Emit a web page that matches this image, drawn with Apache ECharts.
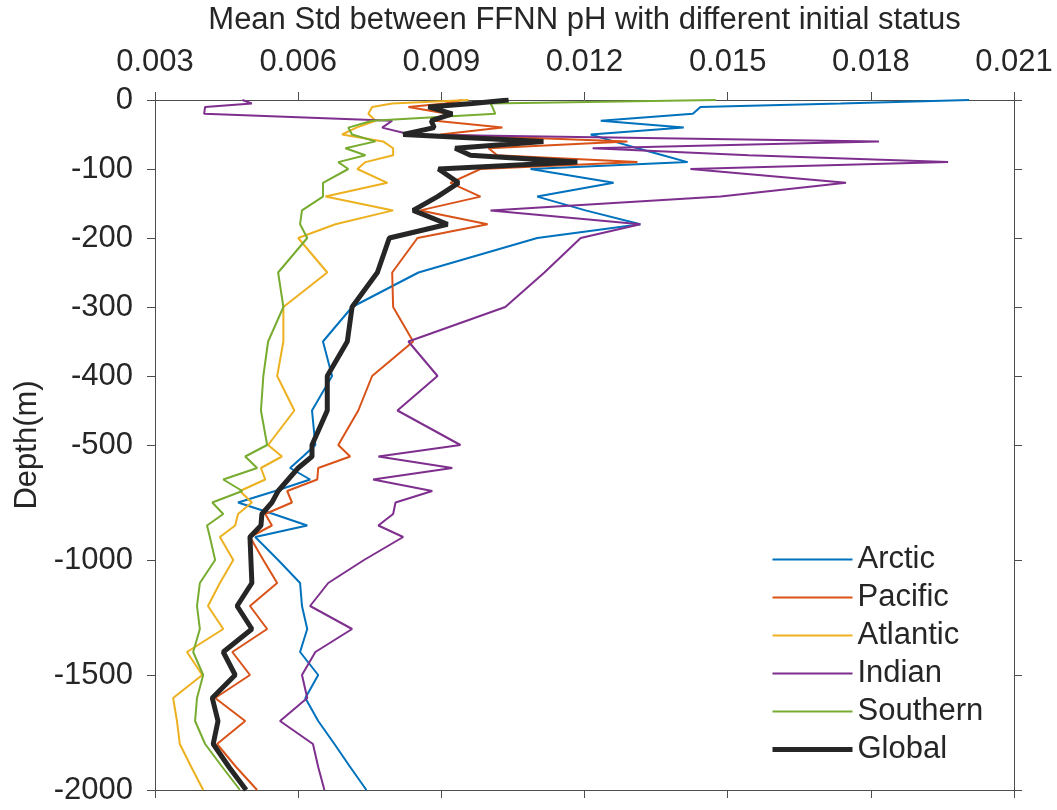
<!DOCTYPE html>
<html>
<head>
<meta charset="utf-8">
<script src="https://cdn.jsdelivr.net/npm/echarts@6/dist/echarts.min.js"></script>
<style>html,body{margin:0;padding:0;background:#fff}#c{width:1057px;height:810px}</style>
</head>
<body>
<div id="c"></div>
<script>
// Depth levels (m, negative = below surface)
const depths = [0,-5,-10,-20,-30,-40,-50,-60,-70,-80,-90,-100,-120,-140,-160,-180,-200,-250,-300,-350,-400,-450,-500,-550,-600,-650,-700,-750,-800,-850,-900,-1000,-1100,-1200,-1300,-1400,-1500,-1600,-1700,-1800,-1900,-2000];

const arctic = [0.02006,0.01737,0.01443,0.01427,0.01234,0.01408,0.01213,0.01261,0.01311,0.01364,0.01416,0.01087,0.01261,0.01101,0.01202,0.01317,0.01101,0.00852,0.00713,0.00652,0.00671,0.00629,0.00636,0.00610,0.00583,0.00625,0.00552,0.00474,0.00548,0.00619,0.00510,0.00558,0.00604,0.00608,0.00619,0.00604,0.00642,0.00615,0.00642,0.00676,0.00709,0.00743];
const pacific = [0.00944,0.00908,0.00831,0.00913,0.00887,0.01028,0.00898,0.01290,0.00999,0.01017,0.01311,0.00982,0.00919,0.00982,0.00856,0.00997,0.00850,0.00797,0.00799,0.00841,0.00755,0.00726,0.00684,0.00709,0.00642,0.00640,0.00577,0.00587,0.00531,0.00545,0.00499,0.00527,0.00556,0.00499,0.00535,0.00462,0.00499,0.00426,0.00489,0.00430,0.00470,0.00514];
const atlantic = [0.00957,0.00797,0.00755,0.00747,0.00762,0.00722,0.00692,0.00778,0.00799,0.00799,0.00741,0.00724,0.00787,0.00657,0.00799,0.00678,0.00600,0.00661,0.00569,0.00569,0.00556,0.00592,0.00537,0.00566,0.00522,0.00531,0.00478,0.00503,0.00474,0.00468,0.00436,0.00464,0.00436,0.00411,0.00443,0.00367,0.00399,0.00338,0.00346,0.00352,0.00376,0.00401];
const indian = [0.00483,0.00503,0.00405,0.00403,0.00797,0.00776,0.00835,0.01817,0.01217,0.01544,0.01962,0.01422,0.01748,0.01485,0.01003,0.01317,0.01192,0.01116,0.01034,0.00831,0.00892,0.00808,0.00940,0.00768,0.00923,0.00757,0.00881,0.00804,0.00799,0.00768,0.00820,0.00738,0.00663,0.00625,0.00713,0.00636,0.00608,0.00619,0.00562,0.00631,0.00642,0.00655];
const southern = [0.01475,0.01003,0.01007,0.01013,0.00755,0.00705,0.00713,0.00762,0.00699,0.00741,0.00684,0.00705,0.00652,0.00652,0.00608,0.00604,0.00619,0.00558,0.00569,0.00537,0.00527,0.00522,0.00535,0.00489,0.00514,0.00443,0.00483,0.00420,0.00443,0.00409,0.00415,0.00426,0.00394,0.00388,0.00394,0.00380,0.00401,0.00388,0.00384,0.00405,0.00441,0.00478];
const globalMean = [0.01041,0.00965,0.00873,0.00923,0.00879,0.00885,0.00820,0.01114,0.00929,0.00961,0.01185,0.00894,0.00936,0.00892,0.00841,0.00913,0.00791,0.00766,0.00713,0.00703,0.00661,0.00661,0.00629,0.00629,0.00600,0.00579,0.00558,0.00545,0.00524,0.00522,0.00499,0.00501,0.00503,0.00472,0.00503,0.00443,0.00468,0.00420,0.00432,0.00422,0.00455,0.00491];

const seriesNames = ['Arctic','Pacific','Atlantic','Indian','Southern','Global'];
const seriesData = [arctic, pacific, atlantic, indian, southern, globalMean];
const seriesColors = ['#0072BD','#D95319','#EDB120','#7E2F8E','#77AC30','#262626'];

const xTickLabels = ['0.003','0.006','0.009','0.012','0.015','0.018','0.021'];
const yTickDepths = [0,-100,-200,-300,-400,-500,-1000,-1500,-2000];

// piecewise depth axis: 0..-500 linear, -500..-2000 compressed by 3
function toAxis(d){ return d >= -500 ? d : -500 + (d + 500) / 3; }
function fromAxis(v){ return v >= -500 ? v : -500 + (v + 500) * 3; }

const yTickVals = yTickDepths.map(toAxis);
const FONT = 'Liberation Sans, Arial, Helvetica, sans-serif';
const FS = 31;
const TXT = '#262626';
const AX = '#4d4d4d';

function lw(n){ return n === 'Global' ? 5 : 2; }

const series = seriesNames.map((n, i) => ({
  name: n,
  type: 'line',
  xAxisIndex: 0,
  yAxisIndex: 0,
  data: seriesData[i].map((v, k) => [v, toAxis(depths[k])]),
  showSymbol: false,
  symbol: 'none',
  clip: true,
  silent: true,
  animation: false,
  lineStyle: { color: seriesColors[i], width: lw(n) },
  itemStyle: { color: seriesColors[i] },
  z: n === 'Global' ? 10 : 2 + i
}));

const chart = echarts.init(document.getElementById('c'), null, { renderer: 'canvas' });
chart.setOption({
  animation: false,
  backgroundColor: '#ffffff',
  textStyle: { fontFamily: FONT },
  grid: { left: 155, right: 43, top: 100, bottom: 20, containLabel: false, outerBoundsMode: 'none' },
  legend: {
    orient: 'vertical',
    left: 765,
    top: 539,
    itemWidth: 80,
    itemHeight: 12,
    itemGap: 7,
    data: seriesNames.map((n, i) => ({ name: n, lineStyle: { color: seriesColors[i], width: lw(n) } })),
    itemStyle: { opacity: 0 },
    textStyle: { fontSize: FS, color: TXT, fontFamily: FONT },
    backgroundColor: '#ffffff',
    selectedMode: false
  },
  xAxis: [{
    type: 'value', position: 'top', min: 0.003, max: 0.021, interval: 0.003,
    name: 'Mean Std between FFNN pH with different initial status',
    nameLocation: 'middle', nameGap: 64,
    nameTextStyle: { fontSize: FS, color: TXT, fontFamily: FONT },
    axisLine: { show: true, lineStyle: { color: AX, width: 1 } },
    axisTick: { show: true, inside: false, length: 8, lineStyle: { color: AX } },
    axisLabel: { show: true, fontSize: FS, color: TXT, margin: 22, fontFamily: FONT,
      formatter: (v) => { const idx = Math.round((v - 0.003) / 0.003); return xTickLabels[idx] || ''; } },
    splitLine: { show: false }
  }, {
    type: 'value', position: 'bottom', min: 0.003, max: 0.021, interval: 0.003,
    axisLine: { show: true, onZero: false, lineStyle: { color: AX, width: 1 } },
    axisTick: { show: true, inside: false, length: 8, lineStyle: { color: AX } },
    axisLabel: { show: false },
    splitLine: { show: false }
  }],
  yAxis: [{
    type: 'value', position: 'left', min: -1000, max: 0,
    name: 'Depth(m)', nameLocation: 'middle', nameGap: 110,
    nameTextStyle: { fontSize: FS, color: TXT, fontFamily: FONT },
    axisLine: { show: true, lineStyle: { color: AX, width: 1 } },
    axisTick: { show: true, inside: false, length: 8, customValues: yTickVals, lineStyle: { color: AX } },
    axisLabel: { show: true, fontSize: FS, color: TXT, margin: 22, fontFamily: FONT,
      customValues: yTickVals, formatter: (v) => String(Math.round(fromAxis(v))) },
    splitLine: { show: false }
  }, {
    type: 'value', position: 'right', min: -1000, max: 0,
    axisLine: { show: true, onZero: false, lineStyle: { color: AX, width: 1 } },
    axisTick: { show: true, inside: false, length: 8, customValues: yTickVals, lineStyle: { color: AX } },
    axisLabel: { show: false },
    splitLine: { show: false }
  }],
  series: series
});
</script>
</body>
</html>
